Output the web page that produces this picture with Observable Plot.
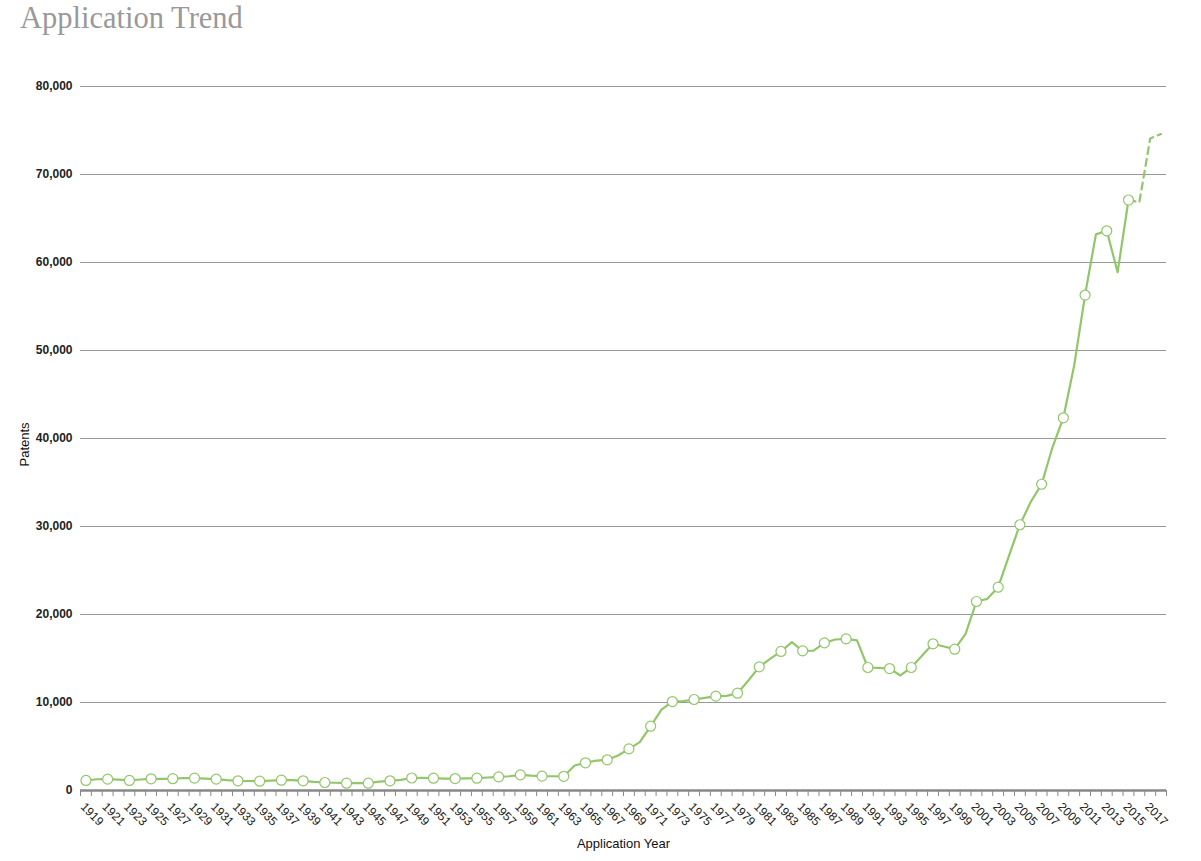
<!DOCTYPE html>
<html>
<head>
<meta charset="utf-8">
<script src="https://cdn.jsdelivr.net/npm/d3@7"></script>
<script src="https://cdn.jsdelivr.net/npm/@observablehq/plot@0.6"></script>
<style>
  html, body { margin: 0; padding: 0; background: #fff; }
  #title { height: 40px; box-sizing: border-box; padding: 3px 0 0 20px; margin: 0;
    font-family: "Liberation Serif", "Times New Roman", serif; font-size: 30.5px; line-height: 30px;
    color: #999; font-weight: normal; white-space: nowrap; }
  #chart svg { display: block; }
</style>
</head>
<body>
<div id="title">Application Trend</div>
<div id="chart"></div>
<script>
const years = [
  1919,1920,1921,1922,1923,1924,1925,1926,1927,1928,1929,1930,1931,1932,1933,1934,1935,1936,1937,1938,
  1939,1940,1941,1942,1943,1944,1945,1946,1947,1948,1949,1950,1951,1952,1953,1954,1955,1956,1957,1958,
  1959,1960,1961,1962,1963,1964,1965,1966,1967,1968,1969,1970,1971,1972,1973,1974,1975,1976,1977,1978,
  1979,1980,1981,1982,1983,1984,1985,1986,1987,1988,1989,1990,1991,1992,1993,1994,1995,1996,1997,1998,
  1999,2000,2001,2002,2003,2004,2005,2006,2007,2008,2009,2010,2011,2012,2013,2014,2015,2016,2017,2018
];
const patents = [
  1140,1280,1290,1230,1140,1250,1330,1320,1340,1400,1410,1350,1290,1180,1100,1080,1060,1120,1170,1180,
  1100,980,910,880,830,830,830,1000,1100,1200,1420,1430,1400,1360,1360,1370,1400,1480,1550,1620,
  1780,1680,1630,1620,1610,2840,3150,3400,3490,3980,4730,5490,7310,9200,10110,10150,10340,10530,10720,10760,
  11060,12500,14050,14960,15800,16860,15870,15900,16780,17160,17230,17050,13980,13940,13860,13070,13980,15340,16670,16360,
  16060,17800,21480,21780,23100,26700,30200,32800,34800,39000,42350,48300,56300,63200,63600,58900,67100,66850,74100,74600
];
const yTicks = [0,10000,20000,30000,40000,50000,60000,70000,80000];
const lastComplete = 2015;   // later years are drawn dashed (incomplete)

const green = "#92c66a";
const rows = years.map((yr, i) => ({year: yr, value: patents[i]}));
const solid = rows.filter(d => d.year <= lastComplete);
const dashed = rows.filter(d => d.year >= lastComplete);
const dotRows = rows.filter(d => d.year % 2 === 1 && d.year <= lastComplete);
const labelYears = years.filter(y => y % 2 === 1);
const tickEdges = years.map(y => y - 0.5).concat([years[years.length - 1] + 0.5]);

const chart = Plot.plot({
  width: 1201,
  height: 821,
  marginTop: 46,
  marginBottom: 71,
  marginLeft: 80,
  marginRight: 35,
  style: {fontFamily: "'Liberation Sans', Arial, Helvetica, sans-serif", background: "#fff", overflow: "visible"},
  x: {type: "linear", domain: [years[0] - 0.5, years[years.length - 1] + 0.5], axis: null},
  y: {domain: [0, 80000], axis: null},
  marks: [
    Plot.gridY(yTicks, {stroke: "#999", strokeOpacity: 1, strokeWidth: 1}),
    Plot.axisY(yTicks, {tickSize: 0, tickPadding: 8, tickFormat: d3.format(","), fontWeight: "bold", fontSize: 12, fill: "#222", label: null}),
    Plot.axisX(tickEdges, {tickSize: 6, tickFormat: () => "", stroke: "#888", strokeWidth: 1, label: null}),
    Plot.ruleY([0], {stroke: "#888", strokeWidth: 2.5}),
    Plot.text(labelYears, {x: d => d, y: 0, text: d => String(d), rotate: 45, textAnchor: "start", lineAnchor: "top", dx: 0, dy: 11, fontSize: 12, fill: "#222"}),
    Plot.text(["Application Year"], {frameAnchor: "bottom", dy: 57, fontSize: 13, fill: "#111"}),
    Plot.text(["Patents"], {frameAnchor: "left", rotate: -90, dx: -56, dy: 28, fontSize: 13, fill: "#111"}),
    Plot.line(solid, {x: "year", y: "value", stroke: green, strokeWidth: 2.2}),
    Plot.line(dashed, {x: "year", y: "value", stroke: green, strokeWidth: 2.2, strokeDasharray: "7,5"}),
    Plot.dot(dotRows, {x: "year", y: "value", r: 5, fill: "#fff", stroke: green, strokeWidth: 1.2})
  ]
});
document.getElementById("chart").appendChild(chart);
</script>
</body>
</html>
